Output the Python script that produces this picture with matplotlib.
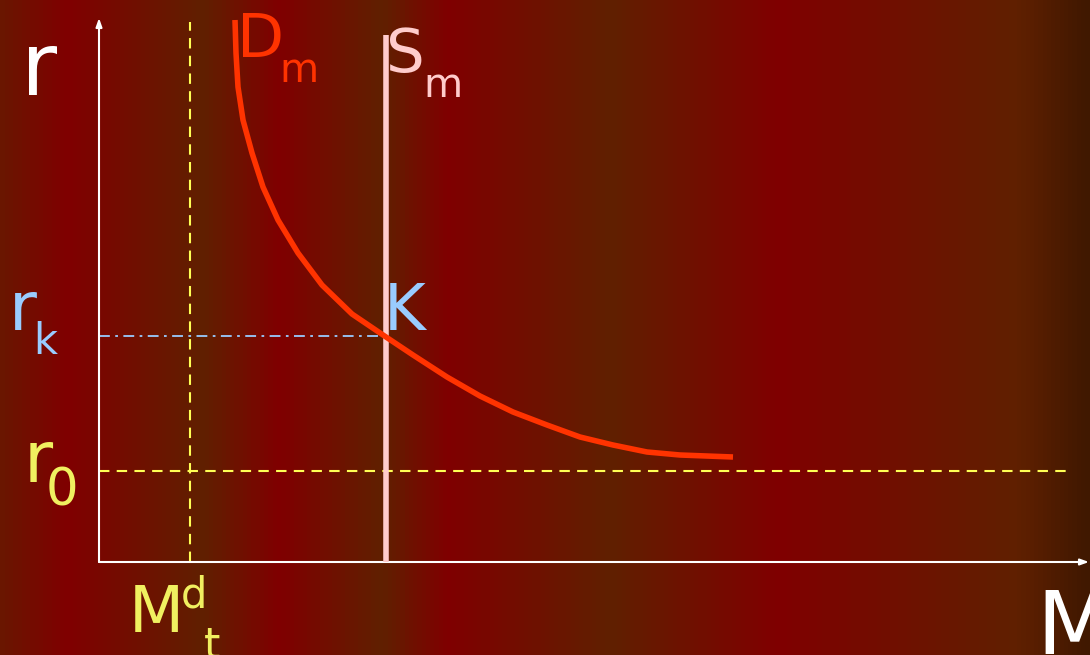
import matplotlib
matplotlib.use("Agg")
import matplotlib.pyplot as plt
import numpy as np
from matplotlib.colors import LinearSegmentedColormap

# money market: demand curve D_m, fixed supply S_m
md_x = [1.36, 1.37, 1.39, 1.44, 1.53, 1.64, 1.79, 1.99, 2.23, 2.53, 2.87,
        3.14, 3.48, 3.81, 4.14, 4.48, 4.81, 5.14, 5.48, 5.81, 6.34]
md_y = [5.42, 5.09, 4.75, 4.42, 4.09, 3.75, 3.42, 3.09, 2.77, 2.48, 2.25,
        2.07, 1.85, 1.66, 1.50, 1.37, 1.25, 1.17, 1.10, 1.07, 1.05]
Ms = 2.87      # money supply
Mdt = 0.91     # transaction demand
r0 = 0.91      # floor interest rate
rk = 2.26      # equilibrium rate (point K)

# background stripes (position 0..1, colour)
bg_stops = [(0.0, "#6a1600"), (0.06, "#800000"), (0.185, "#602000"), (0.255, "#800000"),
            (0.35, "#602000"), (0.41, "#800000"), (0.56, "#602000"), (0.715, "#800000"),
            (0.935, "#602000"), (1.0, "#401800")]

YELLOW = "#f0f060"
BLUE = "#99ccff"
RED = "#ff3300"
PINK = "#ffcccc"

fig = plt.figure(figsize=(10.9, 6.55), dpi=100)
ax = fig.add_axes([0, 0, 1, 1])
x0, x1, y0, y1 = -0.99, 9.91, -0.93, 5.62
ax.set_xlim(x0, x1)
ax.set_ylim(y0, y1)
ax.axis("off")

cmap = LinearSegmentedColormap.from_list("bg", bg_stops)
ax.imshow(np.linspace(0, 1, 1090)[None, :], cmap=cmap, aspect="auto",
          extent=[x0, x1, y0, y1], zorder=0)

# axes with arrows
arrow = dict(arrowstyle="-|>,head_length=0.5,head_width=0.18", color="white", lw=1.5,
             shrinkA=0, shrinkB=0)
ax.annotate("", xy=(0, 5.44), xytext=(0, 0), arrowprops=arrow, zorder=3)
ax.annotate("", xy=(9.90, 0), xytext=(0, 0), arrowprops=arrow, zorder=3)

# guide lines
ax.plot([Mdt, Mdt], [0, 5.40], color="#ffff55", lw=1.5, ls=(0, (5, 3.5)), zorder=2)
ax.plot([0, 9.69], [r0, r0], color="#ffff55", lw=1.5, ls=(0, (5, 3.5)), zorder=2)
ax.plot([0, Ms], [rk, rk], color=BLUE, lw=1.3, ls=(0, (6, 3, 1.5, 3)), zorder=2)

# supply and demand
ax.plot([Ms, Ms], [0, 5.27], color=PINK, lw=4, zorder=4, solid_capstyle="butt")
ax.plot(md_x, md_y, color=RED, lw=4, zorder=5, solid_capstyle="butt",
        solid_joinstyle="round")

ff = "DejaVu Sans"
ax.text(-0.78, 4.67, "r", color="white", fontsize=63, family=ff)
ax.text(9.37, -0.92, "M", color="white", fontsize=63, family=ff)

ax.text(1.38, 5.05, "D", color=RED, fontsize=44, family=ff)
ax.text(1.80, 4.80, "m", color=RED, fontsize=29, family=ff)

ax.text(Ms, 4.90, "S", color=PINK, fontsize=44, family=ff)
ax.text(3.24, 4.65, "m", color=PINK, fontsize=29, family=ff)

ax.text(Ms - 0.02, rk + 0.06, "K", color=BLUE, fontsize=46, family=ff)
ax.text(-0.90, rk + 0.06, "r", color=BLUE, fontsize=49, family=ff)
ax.text(-0.66, rk - 0.18, "k", color=BLUE, fontsize=30, family=ff)

ax.text(-0.75, r0 - 0.11, "r", color=YELLOW, fontsize=51, family=ff)
ax.text(-0.53, r0 - 0.34, "0", color=YELLOW, fontsize=37, family=ff)

ax.text(0.30, -0.70, "M", color=YELLOW, fontsize=46, family=ff)
ax.text(0.82, -0.45, "d", color=YELLOW, fontsize=30, family=ff)
ax.text(1.05, -0.96, "t", color=YELLOW, fontsize=30, family=ff)

fig.savefig("out.png", dpi=100)
